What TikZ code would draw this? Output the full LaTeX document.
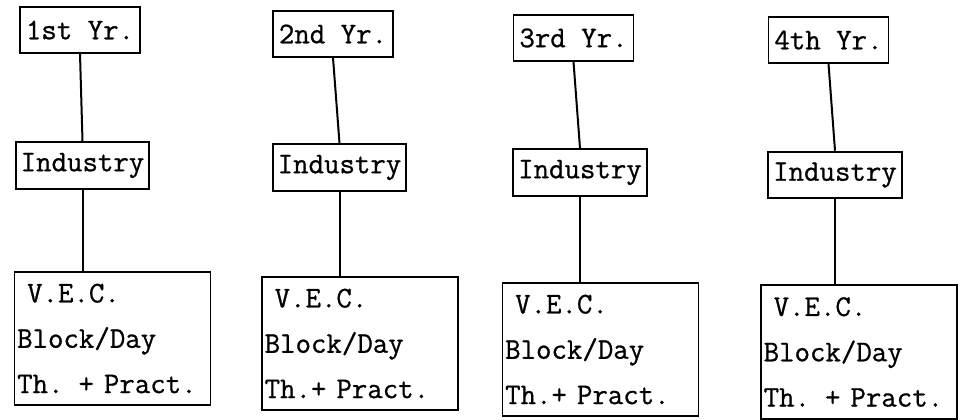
\documentclass[tikz,border=0pt]{standalone}
\usepackage{fontspec}
\newfontfamily\typewr{Latin Modern Mono}[FakeBold=0.8]
\tikzset{
  yrbox/.style={draw, line width=1.4, minimum width=90pt, minimum height=34pt, inner sep=2pt, font=\typewr\fontsize{22.5}{26}\selectfont},
  indbox/.style={draw, line width=1.4, minimum width=100pt, minimum height=35pt, inner sep=2pt, font=\typewr\fontsize{22.5}{26}\selectfont},
  vecbox/.style={draw, line width=1.4, minimum height=100pt, text width=143pt, inner sep=2pt, align=left, font=\typewr\fontsize{22.5}{34}\selectfont},
  link/.style={line width=1.5}
}
\begin{document}
\begin{tikzpicture}[x=0.75pt,y=0.75pt,yscale=-1,xscale=1]
\useasboundingbox (0,0) rectangle (960,420);

%Shape: Rectangle [id:yr1]
\node[yrbox] (yr1) at (80,30) {1st Yr.};
%Shape: Rectangle [id:ind1]
\node[indbox] (ind1) at (82.5,165.5) {Industry};
%Shape: Rectangle [id:vec1]
\node[vecbox] (vec1) at (112.5,338.5) {~V.E.C.\\Block/Day\\Th. + Pract.};

%Shape: Rectangle [id:yr2]
\node[yrbox] (yr2) at (333,34) {2nd Yr.};
%Shape: Rectangle [id:ind2]
\node[indbox] (ind2) at (339.5,167.5) {Industry};
%Shape: Rectangle [id:vec2]
\node[vecbox] (vec2) at (360,343.5) {~V.E.C.\\Block/Day\\Th.+ Pract.};

%Shape: Rectangle [id:yr3]
\node[yrbox] (yr3) at (573.5,38) {3rd Yr.};
%Shape: Rectangle [id:ind3]
\node[indbox] (ind3) at (580,172.5) {Industry};
%Shape: Rectangle [id:vec3]
\node[vecbox] (vec3) at (600.5,349.5) {~V.E.C.\\Block/Day\\Th.+ Pract.};

%Shape: Rectangle [id:yr4]
\node[yrbox] (yr4) at (828.5,40) {4th Yr.};
%Shape: Rectangle [id:ind4]
\node[indbox] (ind4) at (835,175) {Industry};
%Shape: Rectangle [id:vec4]
\node[vecbox] (vec4) at (859,352) {~V.E.C.\\Block/Day\\Th. + Pract.};

%Straight Lines [id:l1]
\draw[link] (yr1.south) -- (ind1.north);
\draw[link] (ind1.south) -- (ind1.south |- vec1.north);
%Straight Lines [id:l2]
\draw[link] (yr2.south) -- (ind2.north);
\draw[link] (ind2.south) -- (ind2.south |- vec2.north);
%Straight Lines [id:l3]
\draw[link] (yr3.south) -- (ind3.north);
\draw[link] (ind3.south) -- (ind3.south |- vec3.north);
%Straight Lines [id:l4]
\draw[link] (yr4.south) -- (ind4.north);
\draw[link] (ind4.south) -- (ind4.south |- vec4.north);

\end{tikzpicture}
\end{document}
